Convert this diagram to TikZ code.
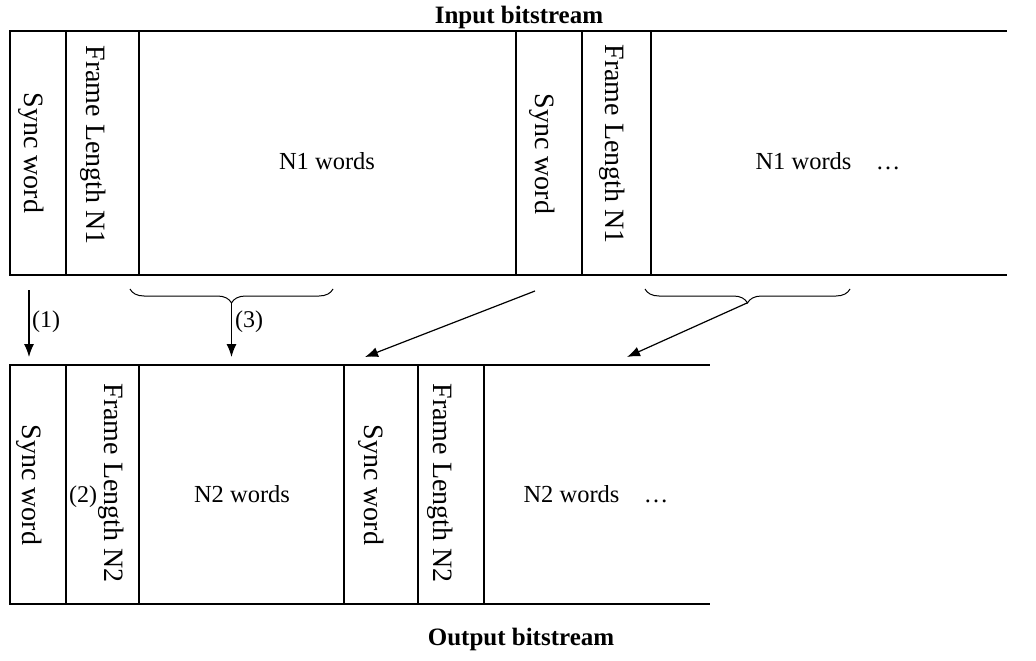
\documentclass[tikz,border=0pt]{standalone}
\usepackage{fontspec}
\setmainfont{Liberation Serif}
\usetikzlibrary{arrows.meta,decorations.pathreplacing}
\begin{document}
\begin{tikzpicture}[x=1pt,y=-1pt,
  line width=1.2pt,
  cell/.style={draw, rectangle, inner sep=0pt, outer sep=0pt, anchor=north west},
  vtext/.style={rotate=-90, inner sep=0pt, font=\fontsize{28}{30}\selectfont},
  htext/.style={inner sep=0pt, anchor=base, font=\fontsize{24.5}{28}\selectfont},
  title/.style={inner sep=0pt, anchor=base, font=\fontsize{25}{28}\selectfont\bfseries},
  lbl/.style={inner sep=0pt, font=\fontsize{24}{28}\selectfont},
  arr/.style={-{Latex[length=13pt,width=10pt]}, line width=1.2pt},
  curly/.style={decorate, decoration={brace, mirror, amplitude=14pt}, line width=1pt}]
\useasboundingbox (0,0) rectangle (1036,661);
% ---- top strip
\node[cell, minimum width=56pt, minimum height=244pt] (ts1) at (10,31) {};
\node[cell, minimum width=73pt, minimum height=244pt] (tf1) at (66,31) {};
\node[cell, minimum width=377pt, minimum height=244pt] (tn1) at (139,31) {};
\node[cell, minimum width=66pt, minimum height=244pt] (ts2) at (516,31) {};
\node[cell, minimum width=69pt, minimum height=244pt] (tf2) at (582,31) {};
\coordinate (tendT) at (1007,31);
\coordinate (tendB) at (1007,275);
\draw (tf2.north east) -- (tendT);
\draw (tf2.south east) -- (tendB);
\node[vtext] (tts1) at (31,153) {Sync word};
\node[vtext] (ttf1) at (93,145) {Frame Length N1};
\node[htext] (ttn1) at (327,169) {N1 words};
\node[vtext] (tts2) at (542,154) {Sync word};
\node[vtext] (ttf2) at (612,144) {Frame Length N1};
\node[htext] (ttn2) at (828,169) {N1 words\quad …};
\node[title] (tin) at (519,24) {Input bitstream};
% ---- bottom strip
\node[cell, minimum width=56pt, minimum height=239pt] (bs1) at (10,365) {};
\node[cell, minimum width=73pt, minimum height=239pt] (bf1) at (66,365) {};
\node[cell, minimum width=205pt, minimum height=239pt] (bn1) at (139,365) {};
\node[cell, minimum width=74pt, minimum height=239pt] (bs2) at (344,365) {};
\node[cell, minimum width=66pt, minimum height=239pt] (bf2) at (418,365) {};
\coordinate (bendT) at (710,365);
\coordinate (bendB) at (710,604);
\draw (bf2.north east) -- (bendT);
\draw (bf2.south east) -- (bendB);
\node[vtext] (bbs1) at (29,485) {Sync word};
\node[vtext] (bbf1) at (111,483) {Frame Length N2};
\node[htext] (bbn1) at (242,502) {N2 words};
\node[vtext] (bbs2) at (371,485) {Sync word};
\node[vtext] (bbf2) at (440,483) {Frame Length N2};
\node[htext] (bbn2) at (596,502) {N2 words\quad …};
\node[title] (tout) at (521,645) {Output bitstream};
% ---- connectors
\coordinate (a1s) at (29,290);
\coordinate (a1e) at (29,357);
\draw[arr] (a1s) -- (a1e);
\node[lbl] (l1) at (46,322) {(1)};
\coordinate (b1l) at (130,289);
\coordinate (b1r) at (333,289);
\draw[curly] (b1l) -- (b1r);
\coordinate (b1t) at (231.5,303);
\coordinate (b1e) at (231.5,357);
\draw[arr] (b1t) -- (b1e);
\node[lbl] (l3) at (249,322) {(3)};
\node[lbl] (l2) at (83,497) {(2)};
\coordinate (d1s) at (535,291);
\coordinate (d1e) at (365,357);
\draw[arr] (d1s) -- (d1e);
\coordinate (b2l) at (645,289);
\coordinate (b2r) at (850,289);
\draw[curly] (b2l) -- (b2r);
\coordinate (b2t) at (747,303);
\coordinate (b2e) at (627,357);
\draw[arr] (b2t) -- (b2e);
\end{tikzpicture}
\end{document}
